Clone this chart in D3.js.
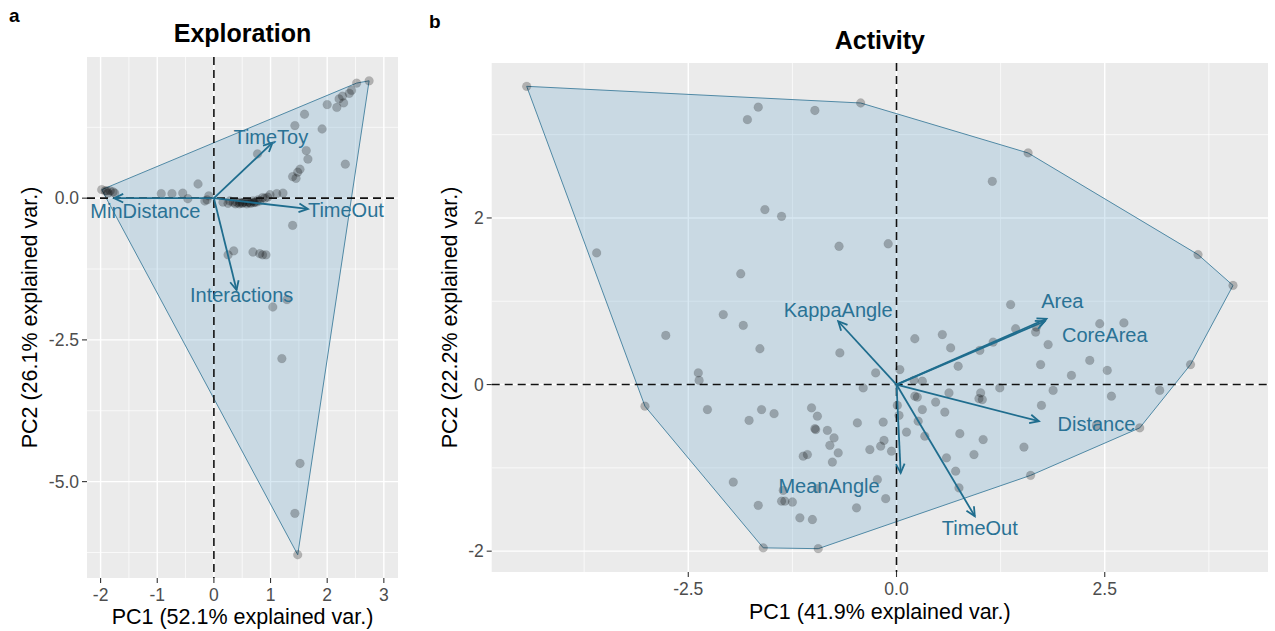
<!DOCTYPE html>
<html>
<head>
<meta charset="utf-8">
<script src="https://cdn.jsdelivr.net/npm/d3@7"></script>
<style>
  html, body { margin: 0; padding: 0; background: #fff; }
  svg { display: block; font-family: "Liberation Sans", Arial, Helvetica, sans-serif; }
</style>
</head>
<body>
<svg id="chart" width="1275" height="631"></svg>
<script>
// ---------------- DATA ----------------
// Panel a: Exploration (PC1, PC2 scores)
const explorationPoints = [
  [2.74, 2.07], [2.52, 2.03], [2.43, 1.90], [2.39, 1.85], [2.27, 1.80], [2.21, 1.75],
  [2.29, 1.68], [2.17, 1.60], [2.00, 1.65], [1.60, 1.48], [1.43, 1.28], [1.91, 1.22],
  [1.63, 0.84], [1.66, 0.69], [0.77, 0.78], [2.32, 0.60], [1.52, 0.51], [1.48, 0.46],
  [1.39, 0.38], [1.45, 0.35], [-0.28, 0.25], [1.39, -0.48],
  [0.25, -1.00], [0.35, -0.93], [0.69, -0.95], [0.81, -0.98], [0.86, -1.00], [0.92, -1.00],
  [1.04, -1.92], [1.29, -1.79],
  [1.20, -2.83], [1.52, -4.68], [1.43, -5.56], [1.48, -6.29],
  [-1.98, 0.15], [-1.92, 0.13], [-1.89, 0.13], [-1.83, 0.13], [-1.78, 0.11], [-1.75, 0.09], [-1.87, 0.09],
  [-0.93, 0.08], [-0.74, 0.08], [-0.55, 0.09], [-0.46, -0.01], [-0.16, -0.05], [-0.09, 0.04], [-0.12, -0.03],
  [0.16, -0.07], [0.28, -0.05], [0.34, -0.07], [0.41, -0.08], [0.46, -0.07], [0.51, -0.08],
  [0.55, -0.07], [0.60, -0.07], [0.63, -0.08], [0.69, -0.05], [0.72, -0.07], [0.78, -0.03],
  [0.81, -0.05], [0.86, 0.01], [0.90, 0.00], [0.95, 0.02], [0.99, 0.06], [1.11, 0.08], [1.22, 0.09],
  [0.25, -0.09], [0.38, -0.10], [0.45, -0.10], [0.50, -0.09], [0.58, -0.10], [0.65, -0.09],
  [0.70, -0.08], [0.75, -0.07]
];
const explorationVars = ["TimeToy", "TimeOut", "MinDistance", "Interactions"];
const explorationArrowX = [1.035, 1.66, -1.76, 0.40];
const explorationArrowY = [0.98, -0.19, 0.0, -1.62];
const explorationLabelX = [1.005, 2.33, -1.21, 0.49];
const explorationLabelY = [1.076, -0.21, -0.22, -1.71];
const explorationXTicks = [-2, -1, 0, 1, 2, 3];
const explorationXTickLabels = ["-2", "-1", "0", "1", "2", "3"];
const explorationYTicks = [0, -2.5, -5];
const explorationYTickLabels = ["0.0", "-2.5", "-5.0"];

// Panel b: Activity (PC1, PC2 scores)
const activityPoints = [
  [-4.44, 3.58], [-1.66, 3.33], [-1.79, 3.18], [-0.98, 3.29], [-0.43, 3.38], [1.58, 2.78],
  [1.15, 2.44], [-1.58, 2.10], [-1.38, 2.02], [-0.69, 1.66], [-3.60, 1.58], [-0.10, 1.69],
  [3.62, 1.56], [4.04, 1.19], [-1.87, 1.33], [-2.08, 0.84], [-1.84, 0.71], [1.37, 0.96],
  [-2.77, 0.59], [-1.64, 0.43], [-0.68, 0.38], [-2.38, 0.14], [-2.37, 0.05], [-3.02, -0.26],
  [-2.27, -0.30], [-1.62, -0.30], [-1.47, -0.35], [-1.77, -0.43], [-1.02, -0.28], [-0.95, -0.38],
  [-0.98, -0.53], [-0.97, -0.54], [-0.83, -0.55], [-0.75, -0.64], [-0.80, -0.73], [-0.70, -0.82],
  [-0.77, -0.93], [-1.12, -0.86], [-1.07, -0.84], [-0.47, -0.46], [-0.40, -0.04], [-0.32, -0.78],
  [-1.96, -1.17], [-1.36, -1.27], [-0.95, -1.25], [-1.66, -1.45], [-1.38, -1.40], [-1.34, -1.40],
  [-1.25, -1.41], [-1.16, -1.60], [-1.01, -1.62], [-0.48, -1.48], [-1.60, -1.96], [-0.94, -1.97],
  [-0.16, -0.45], [-0.15, -0.67], [-0.19, -0.74], [-0.06, -0.80], [-0.25, 0.14], [-0.23, -1.14],
  [-0.13, -1.37], [1.43, 0.67], [1.67, 0.63], [1.68, 0.69], [1.82, 0.48], [1.73, 0.24],
  [2.10, 0.11], [1.88, -0.07], [1.74, -0.25], [1.53, -0.75], [1.61, -1.09], [1.16, 0.51],
  [1.00, 0.41], [0.74, 0.22], [0.65, 0.44], [0.55, 0.60], [0.22, 0.55], [0.04, 0.18],
  [0.21, 0.05], [0.31, 0.04], [1.24, -0.04], [1.01, -0.10], [0.99, -0.17], [1.03, -0.18],
  [0.63, -0.10], [0.47, -0.21], [0.58, -0.33], [0.22, -0.14], [0.25, -0.15], [0.31, -0.30],
  [0.01, -0.25], [0.03, -0.37], [0.26, -0.44], [0.12, -0.57], [0.34, -0.62], [0.76, -0.59],
  [1.04, -0.66], [0.93, -0.84], [0.60, -0.88], [0.71, -1.04], [0.75, -1.24], [2.32, 0.29],
  [2.53, 0.17], [2.44, 0.73], [2.73, 0.74], [2.58, -0.14], [3.16, -0.07], [3.53, 0.24],
  [2.92, -0.52], [2.40, -0.49]
];
const activityVars = ["Area", "CoreArea", "Distance", "TimeOut", "MeanAngle", "KappaAngle"];
const activityArrowX = [1.80, 1.78, 1.71, 0.94, 0.05, -0.70];
const activityArrowY = [0.79, 0.76, -0.44, -1.58, -1.06, 0.76];
const activityLabelX = [1.99, 2.50, 2.40, 1.00, -0.81, -0.70];
const activityLabelY = [1.00, 0.59, -0.47, -1.72, -1.22, 0.89];
const activityXTicks = [-2.5, 0, 2.5];
const activityXTickLabels = ["-2.5", "0.0", "2.5"];
const activityYTicks = [2, 0, -2];
const activityYTickLabels = ["2", "0", "-2"];

// ---------------- DRAW ----------------
const svg = d3.select("#chart");
svg.append("rect").attr("width", 1275).attr("height", 631).attr("fill", "#fff");

const ARROW_COL = "#1f6d8e";
const LABEL_COL = "#2a7295";

function drawPanel(o) {
  const g = svg.append("g");
  const x = d3.scaleLinear().domain(o.xDomain).range([o.left, o.right]);
  const y = d3.scaleLinear().domain(o.yDomain).range([o.bottom, o.top]);

  // background
  g.append("rect").attr("x", o.left).attr("y", o.top)
    .attr("width", o.right - o.left).attr("height", o.bottom - o.top).attr("fill", "#EBEBEB");

  // minor grid
  o.xMinor.forEach(v => g.append("line").attr("x1", x(v)).attr("x2", x(v))
    .attr("y1", o.top).attr("y2", o.bottom).attr("stroke", "#fff").attr("stroke-width", 0.7));
  o.yMinor.forEach(v => g.append("line").attr("y1", y(v)).attr("y2", y(v))
    .attr("x1", o.left).attr("x2", o.right).attr("stroke", "#fff").attr("stroke-width", 0.7));
  // major grid
  o.xTicks.forEach(v => g.append("line").attr("x1", x(v)).attr("x2", x(v))
    .attr("y1", o.top).attr("y2", o.bottom).attr("stroke", "#fff").attr("stroke-width", 1.4));
  o.yTicks.forEach(v => g.append("line").attr("y1", y(v)).attr("y2", y(v))
    .attr("x1", o.left).attr("x2", o.right).attr("stroke", "#fff").attr("stroke-width", 1.4));

  // hull
  const px = o.points.map(p => [x(p[0]), y(p[1])]);
  const hull = d3.polygonHull(px);
  g.append("path").attr("d", "M" + hull.map(p => p.join(",")).join("L") + "Z")
    .attr("fill", "#5aa0c8").attr("fill-opacity", 0.24)
    .attr("stroke", "#5089a5").attr("stroke-width", 1);

  // points
  g.selectAll("circle.pt").data(o.points).join("circle").attr("class", "pt")
    .attr("cx", d => x(d[0])).attr("cy", d => y(d[1])).attr("r", o.r)
    .attr("fill", "#000").attr("fill-opacity", 0.25)
    .attr("stroke", "#000").attr("stroke-opacity", 0.08).attr("stroke-width", 0.8);

  // zero lines
  g.append("line").attr("x1", o.left).attr("x2", o.right).attr("y1", y(0)).attr("y2", y(0))
    .attr("stroke", "#111").attr("stroke-width", 1.6).attr("stroke-dasharray", "8,5");
  g.append("line").attr("y1", o.top).attr("y2", o.bottom).attr("x1", x(0)).attr("x2", x(0))
    .attr("stroke", "#111").attr("stroke-width", 1.6).attr("stroke-dasharray", "8,5");

  // arrows
  o.vars.forEach((name, i) => {
    const x0 = x(0), y0 = y(0), x1 = x(o.ax[i]), y1 = y(o.ay[i]);
    g.append("line").attr("x1", x0).attr("y1", y0).attr("x2", x1).attr("y2", y1)
      .attr("stroke", ARROW_COL).attr("stroke-width", 1.8);
    const ang = Math.atan2(y1 - y0, x1 - x0), L = 10, A = Math.PI / 7;
    const p1 = [x1 - L * Math.cos(ang - A), y1 - L * Math.sin(ang - A)];
    const p2 = [x1 - L * Math.cos(ang + A), y1 - L * Math.sin(ang + A)];
    g.append("path").attr("d", `M${p1}L${x1},${y1}L${p2}`)
      .attr("fill", "none").attr("stroke", ARROW_COL).attr("stroke-width", 1.8);
  });
  o.vars.forEach((name, i) => {
    g.append("text").attr("x", x(o.lx[i])).attr("y", y(o.ly[i]))
      .attr("text-anchor", "middle").attr("dominant-baseline", "central")
      .attr("font-size", o.labelSize).attr("fill", LABEL_COL).text(name);
  });

  // ticks
  o.xTicks.forEach((v, i) => {
    g.append("line").attr("x1", x(v)).attr("x2", x(v)).attr("y1", o.bottom).attr("y2", o.bottom + 5)
      .attr("stroke", "#333").attr("stroke-width", 1.1);
    g.append("text").attr("x", x(v)).attr("y", o.bottom + 23).attr("text-anchor", "middle")
      .attr("font-size", 17.5).attr("fill", "#4D4D4D").text(o.xTickLabels[i]);
  });
  o.yTicks.forEach((v, i) => {
    g.append("line").attr("x1", o.left - 5).attr("x2", o.left).attr("y1", y(v)).attr("y2", y(v))
      .attr("stroke", "#333").attr("stroke-width", 1.1);
    g.append("text").attr("x", o.left - 8).attr("y", y(v)).attr("text-anchor", "end")
      .attr("dominant-baseline", "central")
      .attr("font-size", 17.5).attr("fill", "#4D4D4D").text(o.yTickLabels[i]);
  });

  // axis titles
  g.append("text").attr("x", (o.left + o.right) / 2).attr("y", o.xTitleY).attr("text-anchor", "middle")
    .attr("font-size", 21.5).attr("fill", "#000").text(o.xTitle);
  g.append("text").attr("transform", `translate(${o.yTitleX},${(o.top + o.bottom) / 2}) rotate(-90)`)
    .attr("text-anchor", "middle").attr("dominant-baseline", "central")
    .attr("font-size", 21.5).attr("fill", "#000").text(o.yTitle);

  // title
  g.append("text").attr("x", (o.left + o.right) / 2).attr("y", o.titleY).attr("text-anchor", "middle")
    .attr("font-size", 25).attr("font-weight", "bold").attr("fill", "#000").text(o.title);
  // tag
  g.append("text").attr("x", o.tagX).attr("y", o.tagY)
    .attr("font-size", 19).attr("font-weight", "bold").attr("fill", "#000").text(o.tag);
}

drawPanel({
  left: 87, right: 398, top: 57, bottom: 578,
  xDomain: [-2.24, 3.25], yDomain: [-6.70, 2.49],
  xTicks: explorationXTicks, xTickLabels: explorationXTickLabels,
  yTicks: explorationYTicks, yTickLabels: explorationYTickLabels,
  xMinor: [-1.5, -0.5, 0.5, 1.5, 2.5], yMinor: [1.25, -1.25, -3.75, -6.25],
  points: explorationPoints, r: 4.4,
  vars: explorationVars, ax: explorationArrowX, ay: explorationArrowY,
  lx: explorationLabelX, ly: explorationLabelY, labelSize: 20,
  xTitle: "PC1 (52.1% explained var.)", yTitle: "PC2 (26.1% explained var.)",
  xTitleY: 624, yTitleX: 30,
  title: "Exploration", titleY: 42, tag: "a", tagX: 9, tagY: 22
});

drawPanel({
  left: 491.7, right: 1268, top: 63, bottom: 572,
  xDomain: [-4.86, 4.46], yDomain: [-2.25, 3.86],
  xTicks: activityXTicks, xTickLabels: activityXTickLabels,
  yTicks: activityYTicks, yTickLabels: activityYTickLabels,
  xMinor: [-3.75, -1.25, 1.25, 3.75], yMinor: [3, 1, -1],
  points: activityPoints, r: 4.4,
  vars: activityVars, ax: activityArrowX, ay: activityArrowY,
  lx: activityLabelX, ly: activityLabelY, labelSize: 20,
  xTitle: "PC1 (41.9% explained var.)", yTitle: "PC2 (22.2% explained var.)",
  xTitleY: 619, yTitleX: 450,
  title: "Activity", titleY: 49, tag: "b", tagX: 429, tagY: 28
});
</script>
</body>
</html>
